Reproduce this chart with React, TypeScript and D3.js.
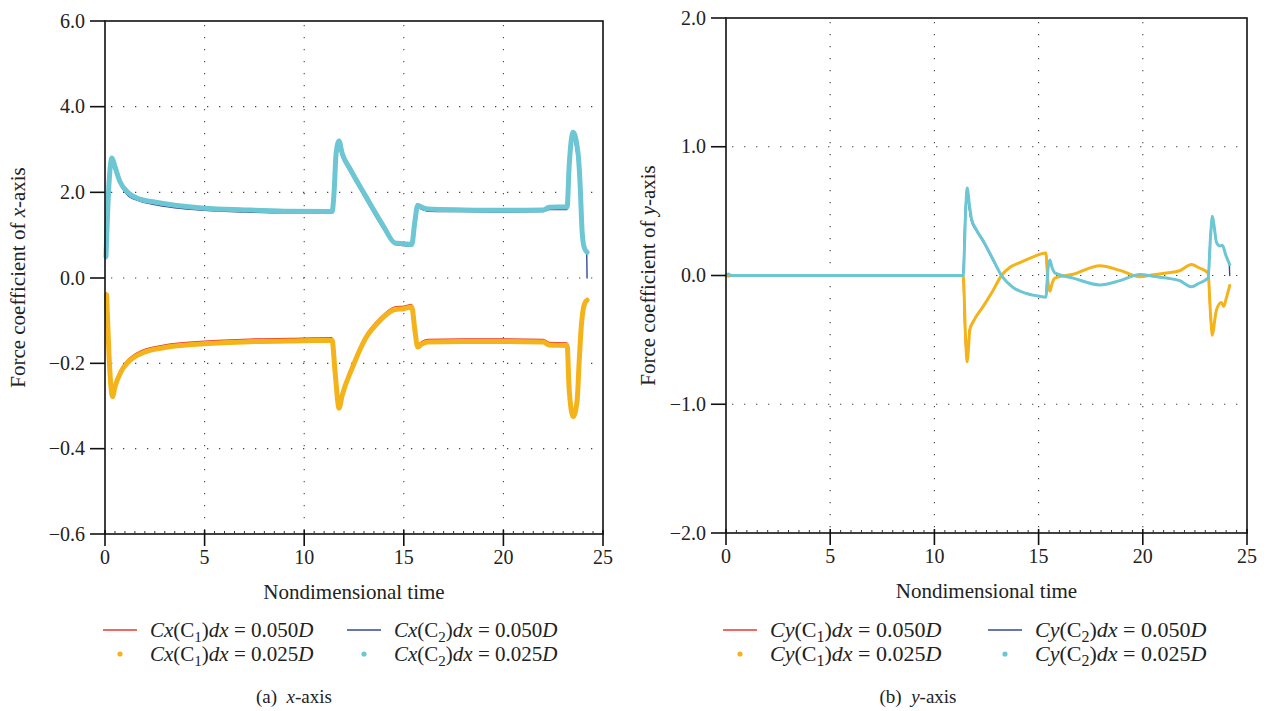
import React, { useEffect, useRef } from "react";
import * as d3 from "d3";

// ---- data (t = nondimensional time, v = force coefficient) ----

// (a) x-axis, C2 rides the upper half of the split axis, C1 the lower half
const cxC2Coarse: [number, number][] = [
  [0.05, 0.45], [0.2, 2.1], [0.33, 2.72], [0.5, 2.5], [0.8, 2.15], [1.1, 1.95], [1.7, 1.8],
  [2.4, 1.72], [3.5, 1.64], [5, 1.58], [7, 1.54], [9, 1.52], [11.4, 1.52], [11.5, 1.9],
  [11.6, 2.8], [11.72, 3.05], [11.9, 2.82], [12.3, 2.48], [13.1, 1.83], [13.97, 1.15],
  [14.55, 0.78], [15.0, 0.76], [15.4, 0.74], [15.55, 1.25], [15.7, 1.65], [15.9, 1.6],
  [16.2, 1.56], [18, 1.55], [20, 1.54], [22.0, 1.55], [22.3, 1.6], [23.2, 1.6], [23.3, 2.5],
  [23.45, 3.28], [23.7, 2.85], [23.85, 2.1], [23.95, 1.05], [24.05, 0.68], [24.18, 0.58],
  [24.2, 0.0],
];
const cxC2Fine: [number, number][] = [
  [0.05, 0.5], [0.2, 2.2], [0.35, 2.8], [0.5, 2.6], [0.75, 2.25], [1.1, 2.02], [1.76, 1.84],
  [2.4, 1.78], [3.5, 1.7], [5, 1.63], [7, 1.59], [9, 1.56], [11.4, 1.55], [11.5, 2.0],
  [11.6, 2.9], [11.75, 3.2], [11.9, 2.92], [12.3, 2.55], [13.1, 1.9], [13.97, 1.22],
  [14.55, 0.82], [15.0, 0.8], [15.4, 0.78], [15.55, 1.3], [15.7, 1.7], [15.9, 1.65],
  [16.2, 1.61], [18, 1.59], [20, 1.58], [22.0, 1.59], [22.3, 1.65], [23.2, 1.66], [23.3, 2.6],
  [23.5, 3.4], [23.75, 2.9], [23.85, 2.2], [23.95, 1.1], [24.05, 0.72], [24.2, 0.6],
];
const cxC1Coarse: [number, number][] = [
  [0.08, -0.035], [0.2, -0.17], [0.36, -0.268], [0.5, -0.248], [0.8, -0.213], [1.1, -0.194],
  [1.9, -0.169], [3, -0.157], [5, -0.148], [7.5, -0.143], [10, -0.141], [11.4, -0.14],
  [11.55, -0.21], [11.72, -0.29], [11.9, -0.268], [12.4, -0.205], [13.1, -0.134],
  [13.8, -0.094], [14.55, -0.068], [15.0, -0.066], [15.4, -0.062], [15.55, -0.114],
  [15.7, -0.155], [15.9, -0.149], [16.2, -0.144], [18, -0.143], [20, -0.143], [22.0, -0.144],
  [22.3, -0.151], [23.2, -0.152], [23.3, -0.25], [23.48, -0.312], [23.7, -0.28], [23.8, -0.195],
  [23.9, -0.115], [24.0, -0.07], [24.1, -0.054], [24.2, -0.048],
];
const cxC1Fine: [number, number][] = [
  [0.08, -0.04], [0.2, -0.18], [0.38, -0.278], [0.5, -0.255], [0.8, -0.22], [1.1, -0.2],
  [1.9, -0.175], [3, -0.163], [5, -0.154], [7.5, -0.149], [10, -0.147], [11.4, -0.146],
  [11.55, -0.22], [11.75, -0.305], [11.9, -0.276], [12.4, -0.212], [13.1, -0.14],
  [13.8, -0.1], [14.55, -0.074], [15.0, -0.072], [15.4, -0.068], [15.55, -0.12],
  [15.7, -0.162], [15.9, -0.155], [16.2, -0.15], [18, -0.149], [20, -0.149], [22.0, -0.15],
  [22.3, -0.157], [23.2, -0.158], [23.3, -0.26], [23.5, -0.325], [23.7, -0.288], [23.8, -0.2],
  [23.9, -0.12], [24.0, -0.075], [24.1, -0.058], [24.2, -0.052],
];

// (b) y-axis
const cyC2Coarse: [number, number][] = [
  [0, 0], [0.1, 0.012], [0.25, 0], [11.36, 0], [11.47, 0.48], [11.55, 0.66], [11.66, 0.53],
  [11.76, 0.43], [12.0, 0.35], [12.34, 0.26], [12.8, 0.12], [13.22, 0.0], [13.78, -0.093],
  [14.42, -0.14], [15.0, -0.16], [15.33, -0.168], [15.43, 0.05], [15.52, 0.11], [15.65, 0.06],
  [15.78, 0.02], [16.66, -0.02], [17.94, -0.073], [18.9, -0.04], [19.86, 0.008],
  [20.5, -0.005], [21.14, -0.02], [21.77, -0.04], [22.33, -0.088], [22.7, -0.06],
  [23.13, -0.02], [23.23, 0.3], [23.32, 0.44], [23.45, 0.34], [23.53, 0.26], [23.7, 0.23],
  [23.82, 0.235], [23.98, 0.16], [24.15, 0.085], [24.17, 0.0],
];
const cyC2Fine: [number, number][] = [
  [0, 0], [0.1, 0.012], [0.25, 0], [11.38, 0], [11.5, 0.5], [11.57, 0.68], [11.68, 0.55],
  [11.78, 0.44], [12.0, 0.36], [12.34, 0.27], [12.8, 0.13], [13.22, 0.0], [13.78, -0.093],
  [14.42, -0.14], [15.0, -0.16], [15.35, -0.168], [15.45, 0.05], [15.54, 0.12], [15.65, 0.06],
  [15.78, 0.02], [16.66, -0.02], [17.94, -0.073], [18.9, -0.04], [19.86, 0.008],
  [20.5, -0.005], [21.14, -0.02], [21.77, -0.04], [22.33, -0.088], [22.7, -0.06],
  [23.13, -0.02], [23.25, 0.3], [23.34, 0.46], [23.45, 0.35], [23.53, 0.26], [23.7, 0.23],
  [23.82, 0.235], [23.98, 0.16], [24.17, 0.085],
];
const cyC1Coarse: [number, number][] = [
  [0, 0], [0.1, -0.005], [0.3, 0], [11.36, 0], [11.47, -0.48], [11.55, -0.64], [11.6, -0.58],
  [11.68, -0.42], [12.0, -0.32], [12.34, -0.24], [12.8, -0.12], [13.22, 0.0], [13.6, 0.06],
  [14.1, 0.1], [14.74, 0.145], [15.33, 0.172], [15.43, -0.05], [15.52, -0.12], [15.65, -0.06],
  [15.78, -0.02], [16.66, 0.01], [17.94, 0.076], [18.9, 0.04], [19.86, -0.01], [20.5, 0.005],
  [21.14, 0.02], [21.77, 0.037], [22.33, 0.085], [22.7, 0.06], [23.13, 0.02], [23.23, -0.3],
  [23.32, -0.45], [23.45, -0.35], [23.53, -0.27], [23.77, -0.21], [23.88, -0.24],
  [24.0, -0.18], [24.17, -0.078],
];
const cyC1Fine: [number, number][] = [
  [0, 0], [0.1, -0.005], [0.3, 0], [11.38, 0], [11.5, -0.5], [11.57, -0.67], [11.62, -0.6],
  [11.7, -0.42], [11.86, -0.36], [12.34, -0.24], [12.8, -0.12], [13.22, 0.0], [13.6, 0.06],
  [14.1, 0.1], [14.74, 0.145], [15.35, 0.174], [15.45, -0.05], [15.54, -0.123], [15.65, -0.06],
  [15.78, -0.02], [16.66, 0.01], [17.94, 0.076], [18.9, 0.04], [19.86, -0.01], [20.5, 0.005],
  [21.14, 0.02], [21.77, 0.037], [22.33, 0.085], [22.7, 0.06], [23.13, 0.02], [23.25, -0.3],
  [23.34, -0.465], [23.45, -0.35], [23.53, -0.27], [23.77, -0.21], [23.88, -0.24],
  [24.0, -0.18], [24.17, -0.078],
];

const xTicks = [0, 5, 10, 15, 20, 25];
const xGrid = [5, 10, 15, 20];
const leftYTicks = [6, 4, 2, 0, -0.2, -0.4, -0.6];
const leftYGrid = [4, 2, 0, -0.2, -0.4];
const rightYTicks = [2, 1, 0, -1, -2];
const rightYGrid = [1, 0, -1];

const RED = "#e8392f";
const BLUE = "#34479a";
const ORANGE = "#f5b31b";
const CYAN = "#6cc6d3";
const FONT = "'Liberation Serif', 'Times New Roman', serif";

type Panel = {
  left: number; right: number; top: number; bottom: number;
  yDomain: number[]; yTicks: number[]; yGrid: number[];
  yLabel: string; axisVar: string; caption: string; captionVar: string;
  series: { data: [number, number][]; color: string; width: number }[];
  legendX: [number, number]; yLabelX: number; legendSize: number; captionX: number;
};

const TICK_SIZE = 20;
const TITLE_SIZE = 21;

function drawPanel(svg: d3.Selection<SVGSVGElement, unknown, null, undefined>, p: Panel) {
  const x = d3.scaleLinear().domain([0, 25]).range([p.left, p.right]);
  const yRange = p.yDomain.length === 3 ? [p.bottom, (p.top + p.bottom) / 2 + 0.5, p.top] : [p.bottom, p.top];
  const y = d3.scaleLinear().domain(p.yDomain).range(yRange);
  const g = svg.append("g");

  // dotted grid
  g.selectAll(".vg").data(xGrid).enter().append("line")
    .attr("x1", d => x(d)).attr("x2", d => x(d))
    .attr("y1", p.top + 4).attr("y2", p.bottom - 4)
    .attr("stroke", "#444").attr("stroke-width", 1.1).attr("stroke-dasharray", "1.3 10.7");
  g.selectAll(".hg").data(p.yGrid).enter().append("line")
    .attr("x1", p.left + 6).attr("x2", p.right - 6)
    .attr("y1", d => y(d)).attr("y2", d => y(d))
    .attr("stroke", "#444").attr("stroke-width", 1.1).attr("stroke-dasharray", "1.3 10.7");

  // curves
  const line = d3.line<[number, number]>().x(d => x(d[0])).y(d => y(d[1])).curve(d3.curveMonotoneX);
  p.series.forEach(s => {
    g.append("path").attr("d", line(s.data)).attr("fill", "none")
      .attr("stroke", s.color).attr("stroke-width", s.width)
      .attr("stroke-linejoin", "round").attr("stroke-linecap", "round");
  });

  // frame
  g.append("rect").attr("x", p.left).attr("y", p.top)
    .attr("width", p.right - p.left).attr("height", p.bottom - p.top)
    .attr("fill", "none").attr("stroke", "#111").attr("stroke-width", 1.6);

  // minor x ticks
  g.selectAll(".mt").data(d3.range(0, 25.01, 0.5).filter(v => v % 5 !== 0)).enter().append("line")
    .attr("x1", d => x(d)).attr("x2", d => x(d))
    .attr("y1", p.bottom).attr("y2", p.bottom - 3)
    .attr("stroke", "#333").attr("stroke-width", 1);

  // major x ticks
  g.selectAll(".xt").data(xTicks).enter().append("line")
    .attr("x1", d => x(d)).attr("x2", d => x(d))
    .attr("y1", p.bottom - 4).attr("y2", p.bottom + 12)
    .attr("stroke", "#111").attr("stroke-width", 1.6);
  g.selectAll(".xl").data(xTicks).enter().append("text")
    .attr("x", d => x(d)).attr("y", p.bottom + 30)
    .attr("text-anchor", "middle").attr("font-family", FONT).attr("font-size", TICK_SIZE)
    .attr("fill", "#222").text(d => String(d));

  // y ticks
  const fmt = d3.format(".1f");
  g.selectAll(".yt").data(p.yTicks).enter().append("line")
    .attr("x1", p.left - 15).attr("x2", p.left)
    .attr("y1", d => y(d)).attr("y2", d => y(d))
    .attr("stroke", "#111").attr("stroke-width", 1.6);
  g.selectAll(".yl").data(p.yTicks).enter().append("text")
    .attr("x", p.left - 20).attr("y", d => y(d) + 6.5)
    .attr("text-anchor", "end").attr("font-family", FONT).attr("font-size", TICK_SIZE)
    .attr("fill", "#222").text(d => fmt(d));

  // axis titles
  const midX = (p.left + p.right) / 2;
  g.append("text").attr("x", midX).attr("y", p.bottom + 65)
    .attr("text-anchor", "middle").attr("font-family", FONT).attr("font-size", TITLE_SIZE)
    .attr("fill", "#222").text("Nondimensional time");
  const yl = g.append("text")
    .attr("transform", `translate(${p.yLabelX},${(p.top + p.bottom) / 2}) rotate(-90)`)
    .attr("text-anchor", "middle").attr("font-family", FONT).attr("font-size", TITLE_SIZE)
    .attr("fill", "#222");
  yl.append("tspan").text(p.yLabel + " ");
  yl.append("tspan").attr("font-style", "italic").text(p.axisVar);
  yl.append("tspan").text("-axis");

  // legend
  const rows = [
    { c: 1, val: "0.050", col: 0, color: RED, kind: "line" },
    { c: 2, val: "0.050", col: 1, color: BLUE, kind: "line" },
    { c: 1, val: "0.025", col: 0, color: ORANGE, kind: "dot" },
    { c: 2, val: "0.025", col: 1, color: CYAN, kind: "dot" },
  ];
  const fs = p.legendSize;
  rows.forEach((r, i) => {
    const ly = i < 2 ? 630 : 654;
    const lx = p.legendX[r.col];
    if (r.kind === "line") {
      g.append("line").attr("x1", lx).attr("x2", lx + 34).attr("y1", ly).attr("y2", ly)
        .attr("stroke", r.color).attr("stroke-width", 1.4);
    } else {
      g.append("circle").attr("cx", lx + 17).attr("cy", ly).attr("r", 2.6).attr("fill", r.color);
    }
    const t = g.append("text").attr("x", lx + 47).attr("y", ly + 7)
      .attr("font-family", FONT).attr("font-size", fs).attr("fill", "#222");
    t.append("tspan").attr("font-style", "italic").text("C" + p.axisVar);
    t.append("tspan").text("(C");
    t.append("tspan").attr("font-size", fs - 6).attr("dy", 5).text(String(r.c));
    t.append("tspan").attr("dy", -5).text(")");
    t.append("tspan").attr("font-style", "italic").text("dx");
    t.append("tspan").text(` = ${r.val}`);
    t.append("tspan").attr("font-style", "italic").text("D");
  });

  // caption
  const cap = g.append("text").attr("x", p.captionX).attr("y", 703)
    .attr("text-anchor", "middle").attr("font-family", FONT).attr("font-size", 19)
    .attr("fill", "#222");
  cap.append("tspan").text(p.caption + "\u00a0\u00a0");
  cap.append("tspan").attr("font-style", "italic").text(p.captionVar);
  cap.append("tspan").text("-axis");
}

export default function App() {
  const ref = useRef<SVGSVGElement>(null);

  useEffect(() => {
    const svg = d3.select(ref.current!);
    svg.selectAll("*").remove();

    drawPanel(svg, {
      left: 105, right: 603, top: 21, bottom: 534,
      yDomain: [-0.6, 0, 6], yTicks: leftYTicks, yGrid: leftYGrid,
      yLabel: "Force coefficient of", axisVar: "x", caption: "(a)", captionVar: "x",
      series: [
        { data: cxC2Coarse, color: BLUE, width: 1.4 },
        { data: cxC2Fine, color: CYAN, width: 5 },
        { data: cxC1Coarse, color: RED, width: 1.4 },
        { data: cxC1Fine, color: ORANGE, width: 5 },
      ],
      legendX: [103, 347], yLabelX: 25, legendSize: 21, captionX: 294,
    });

    drawPanel(svg, {
      left: 726, right: 1247, top: 18, bottom: 533,
      yDomain: [-2, 2], yTicks: rightYTicks, yGrid: rightYGrid,
      yLabel: "Force coefficient of", axisVar: "y", caption: "(b)", captionVar: "y",
      series: [
        { data: cyC2Coarse, color: BLUE, width: 1.4 },
        { data: cyC1Coarse, color: RED, width: 1.4 },
        { data: cyC1Fine, color: ORANGE, width: 3 },
        { data: cyC2Fine, color: CYAN, width: 3 },
      ],
      legendX: [723, 988], yLabelX: 655, legendSize: 22, captionX: 918,
    });
  }, []);

  return (
    <svg ref={ref} width={1267} height={711}
      style={{ position: "absolute", left: 0, top: 0, background: "#fff" }} />
  );
}
